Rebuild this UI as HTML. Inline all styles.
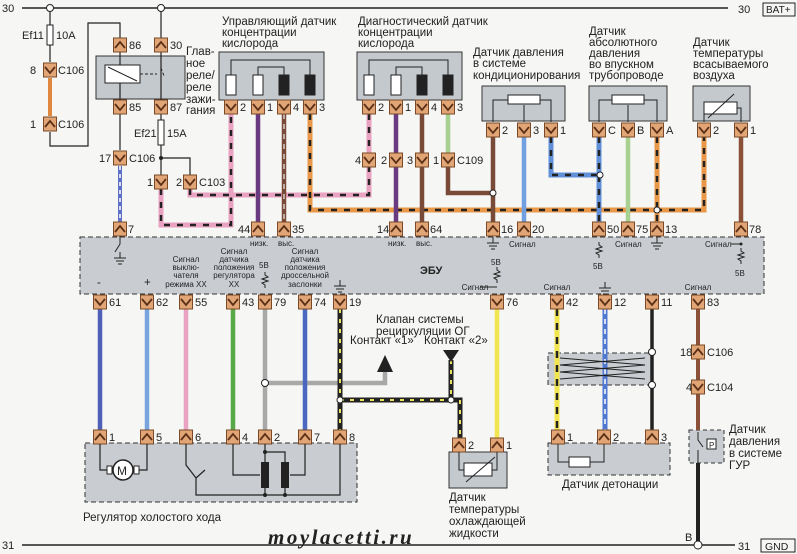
<!DOCTYPE html>
<html><head><meta charset="utf-8"><style>
html,body{margin:0;padding:0;background:#f6f6f4;}
svg{display:block;}
text{font-family:"Liberation Sans",sans-serif;fill:#222;}
.t{font-size:11.5px;}
.s{font-size:8px;}
.n{font-size:11px;}
</style></head><body>
<svg width="797" height="554" viewBox="0 0 797 554" xmlns="http://www.w3.org/2000/svg">
<defs>
<g id="cd"><rect x="-6.5" y="-7" width="13" height="14" fill="#e2a676" stroke="#7a4a28" stroke-width="1"/><path d="M-5,-3 L0,3 L5,-3" fill="none" stroke="#5a3018" stroke-width="1.8"/></g>
<g id="cu"><rect x="-6.5" y="-7" width="13" height="14" fill="#e2a676" stroke="#7a4a28" stroke-width="1"/><path d="M-5,3 L0,-3 L5,3" fill="none" stroke="#5a3018" stroke-width="1.8"/></g>
<g id="gnd"><path d="M0,-6 V0 M-6,0 H6 M-4,3 H4 M-2,6 H2" stroke="#222" stroke-width="1" fill="none"/></g>
<g id="res"><path d="M0,-8 V-5 L3,-3 L-3,-1 L3,1 L-3,3 L0,5 V8" stroke="#222" stroke-width="1" fill="none"/></g>
</defs>
<rect width="797" height="554" fill="#f6f6f4"/>

<!-- power rails -->
<line x1="22" y1="8" x2="728" y2="8" stroke="#222" stroke-width="1.5"/>
<text x="2" y="12" class="n">30</text>
<text x="738" y="13" class="n">30</text>
<rect x="763" y="3" width="32" height="13" fill="none" stroke="#222"/>
<text x="766" y="13" style="font-size:10px">BAT+</text>
<line x1="22" y1="545" x2="735" y2="545" stroke="#222" stroke-width="1.5"/>
<text x="2" y="549" class="n">31</text>
<text x="738" y="550" class="n">31</text>
<rect x="761" y="539" width="34" height="13" fill="none" stroke="#222"/>
<text x="765" y="550" style="font-size:10.5px">GND</text>
<text x="685" y="541" class="n">B</text>

<!-- boxes -->
<rect x="80" y="237" width="684" height="57" fill="#c9cdd2" stroke="#333" stroke-dasharray="5 3"/>
<rect x="96" y="56" width="89" height="43" fill="#c4c9ce" stroke="#333"/>
<rect x="219" y="52" width="105" height="48" fill="#c4c9ce" stroke="#333"/>
<rect x="357" y="52" width="105" height="48" fill="#c4c9ce" stroke="#333"/>
<rect x="482" y="86" width="83" height="35" fill="#c4c9ce" stroke="#333"/>
<rect x="589" y="86" width="78" height="35" fill="#c4c9ce" stroke="#333"/>
<rect x="693" y="86" width="57" height="35" fill="#c4c9ce" stroke="#333"/>
<rect x="85" y="443" width="272" height="59" fill="#c9cdd2" stroke="#333" stroke-dasharray="5 3"/>
<rect x="449" y="452" width="58" height="36" fill="#c4c9ce" stroke="#333"/>
<rect x="548" y="353" width="104" height="32" fill="#c9cdd2" stroke="#333" stroke-dasharray="5 3"/>
<rect x="548" y="443" width="122" height="32" fill="#c9cdd2" stroke="#333" stroke-dasharray="5 3"/>
<rect x="689" y="430" width="35" height="33" fill="#c9cdd2" stroke="#333" stroke-dasharray="4 3"/>

<!-- left fuse/relay wiring -->
<circle cx="50" cy="8" r="3.5" fill="#fff" stroke="#222"/>
<circle cx="161" cy="8" r="3.5" fill="#fff" stroke="#222"/>
<path d="M50,11 V62 M50,132 V146 H88 V23 H120 V38" stroke="#222" stroke-width="1.2" fill="none"/>
<rect x="47" y="25" width="6" height="20" fill="#fff" stroke="#222"/>
<text x="22" y="39" class="n">Ef11</text><text x="56" y="39" class="n">10A</text>
<line x1="50" y1="78" x2="50" y2="116" stroke="#e08840" stroke-width="4"/>
<path d="M161,11 V38 M120,52 V100 M161,52 V100 M120,114 V150 M161,114 V175" stroke="#222" stroke-width="1.2" fill="none"/>
<rect x="105" y="65" width="35" height="18" fill="#fff" stroke="#222"/>
<line x1="108" y1="67" x2="137" y2="81" stroke="#222"/>
<path d="M140,74 H157 M161,68 L164,76" stroke="#222" stroke-dasharray="3 2" fill="none"/>
<rect x="158" y="120" width="6" height="25" fill="#fff" stroke="#222"/>
<text x="134" y="137" class="n">Ef21</text><text x="167" y="137" class="n">15A</text>
<circle cx="161" cy="158" r="2" fill="#222"/>
<path d="M161,158 H190 V175" stroke="#222" stroke-width="1.2" fill="none"/>
<text x="186" y="55" class="t">Глав-</text><text x="186" y="67" class="t">ное</text><text x="186" y="79" class="t">реле/</text><text x="186" y="91" class="t">реле</text><text x="186" y="103" class="t">зажи-</text><text x="186" y="114" class="t">гания</text>

<line x1="120" y1="166" x2="120" y2="222" stroke="#6070c8" stroke-width="4"/>
<line x1="120" y1="166" x2="120" y2="222" stroke="#fff" stroke-width="1.5" stroke-dasharray="4 4"/>

<!-- pink wires -->
<path d="M161,189 V225 H231 V114" stroke="#eaa2c2" stroke-width="5" fill="none"/>
<path d="M161,189 V225 H231 V114" stroke="#222" stroke-width="2.5" stroke-dasharray="6 7" fill="none"/>
<path d="M190,189 V195 H369 V167" stroke="#eaa2c2" stroke-width="5" fill="none"/>
<path d="M190,189 V195 H369 V167" stroke="#222" stroke-width="2.5" stroke-dasharray="6 7" fill="none"/>
<path d="M369,114 V153" stroke="#eaa2c2" stroke-width="5" fill="none"/>
<path d="M369,114 V153" stroke="#222" stroke-width="2.5" stroke-dasharray="6 7" fill="none"/>
<!-- orange/black -->
<path d="M310,114 V210 H704 V137" stroke="#e89848" stroke-width="5" fill="none"/>
<path d="M310,114 V210 H704 V137" stroke="#222" stroke-width="2.5" stroke-dasharray="6 7" fill="none"/>
<path d="M657,137 V222" stroke="#e89848" stroke-width="5" fill="none"/>
<path d="M657,137 V222" stroke="#222" stroke-width="2.5" stroke-dasharray="6 7" fill="none"/>
<circle cx="657" cy="210" r="3" fill="#fff" stroke="#222"/>
<!-- O2 sensor wires -->
<line x1="258" y1="114" x2="258" y2="222" stroke="#6a3a80" stroke-width="4.5"/>
<line x1="284" y1="114" x2="284" y2="222" stroke="#7a4a38" stroke-width="4.5"/>
<line x1="284" y1="114" x2="284" y2="222" stroke="#eee" stroke-width="1.2" stroke-dasharray="5 5"/>
<line x1="396" y1="114" x2="396" y2="222" stroke="#6a3a80" stroke-width="4.5"/>
<line x1="422" y1="114" x2="422" y2="222" stroke="#7a4a38" stroke-width="4.5"/>
<line x1="448" y1="114" x2="448" y2="153" stroke="#a8d090" stroke-width="4.5"/>
<path d="M448,167 V193 H493" stroke="#7a4a38" stroke-width="4.5" fill="none"/>
<line x1="493" y1="137" x2="493" y2="222" stroke="#7a4a38" stroke-width="4.5"/>
<circle cx="493" cy="193" r="3" fill="#fff" stroke="#222"/>
<line x1="524" y1="137" x2="524" y2="222" stroke="#70a0e0" stroke-width="4.5"/>
<path d="M551,137 V175 H601" stroke="#6090d8" stroke-width="5" fill="none"/>
<path d="M551,137 V175 H601" stroke="#222" stroke-width="2.5" stroke-dasharray="6 7" fill="none"/>
<path d="M599,137 V222" stroke="#6090d8" stroke-width="5" fill="none"/>
<path d="M599,137 V222" stroke="#222" stroke-width="2.5" stroke-dasharray="6 7" fill="none"/>
<circle cx="600" cy="175" r="3" fill="#fff" stroke="#222"/>
<line x1="628" y1="137" x2="628" y2="222" stroke="#a8d090" stroke-width="4.5"/>
<line x1="741" y1="137" x2="741" y2="222" stroke="#8a5038" stroke-width="4.5"/>

<!-- sensor internals -->
<g stroke="#222" fill="none" stroke-width="1">
<path d="M231,80 V60 H310 V75 M258,75 V67 H284 V75"/>
<path d="M369,80 V60 H448 V75 M396,75 V67 H422 V75"/>
<path d="M493,122 V100 H551 V122 M524,122 V105"/>
<path d="M599,122 V100 H657 V122 M628,122 V105"/>
<path d="M704,122 V108 M741,122 V108 H712"/>
</g>
<g stroke="#222" stroke-width="1">
<rect x="226" y="75" width="10" height="20" fill="#fff"/><rect x="253" y="75" width="10" height="20" fill="#fff"/><rect x="279" y="75" width="10" height="20" fill="#222"/><rect x="305" y="75" width="10" height="20" fill="#222"/>
<rect x="364" y="75" width="10" height="20" fill="#fff"/><rect x="391" y="75" width="10" height="20" fill="#fff"/><rect x="417" y="75" width="10" height="20" fill="#222"/><rect x="443" y="75" width="10" height="20" fill="#222"/>
<rect x="508" y="95" width="32" height="9" fill="#fff"/><rect x="612" y="95" width="32" height="9" fill="#fff"/>
<rect x="704" y="102" width="33" height="12" fill="#fff"/><line x1="708" y1="118" x2="734" y2="94"/>
</g>

<!-- connectors top -->
<use href="#cu" x="50" y="124"/><use href="#cd" x="50" y="70"/>
<use href="#cu" x="120" y="45"/><use href="#cu" x="161" y="45"/>
<use href="#cd" x="120" y="107"/><use href="#cd" x="161" y="107"/>
<use href="#cd" x="120" y="158"/><use href="#cd" x="161" y="182"/><use href="#cd" x="190" y="182"/>
<use href="#cd" x="231" y="107"/><use href="#cd" x="258" y="107"/><use href="#cd" x="284" y="107"/><use href="#cd" x="310" y="107"/>
<use href="#cd" x="369" y="107"/><use href="#cd" x="396" y="107"/><use href="#cd" x="422" y="107"/><use href="#cd" x="448" y="107"/>
<use href="#cd" x="369" y="160"/><use href="#cd" x="396" y="160"/><use href="#cd" x="422" y="160"/><use href="#cd" x="448" y="160"/>
<use href="#cd" x="493" y="130"/><use href="#cd" x="524" y="130"/><use href="#cd" x="551" y="130"/>
<use href="#cd" x="599" y="130"/><use href="#cd" x="628" y="130"/><use href="#cd" x="657" y="130"/>
<use href="#cd" x="704" y="130"/><use href="#cd" x="741" y="130"/>
<use href="#cu" x="120" y="229"/><use href="#cu" x="258" y="229"/><use href="#cu" x="284" y="229"/><use href="#cu" x="396" y="229"/><use href="#cu" x="422" y="229"/>
<use href="#cu" x="493" y="229"/><use href="#cu" x="524" y="229"/><use href="#cu" x="599" y="229"/><use href="#cu" x="628" y="229"/><use href="#cu" x="657" y="229"/><use href="#cu" x="741" y="229"/>

<!-- connector numbers top -->
<g class="n">
<text x="30" y="74" class="n">8</text><text x="58" y="74" class="n">C106</text>
<text x="30" y="128" class="n">1</text><text x="58" y="128" class="n">C106</text>
<text x="129" y="49" class="n">86</text><text x="170" y="49" class="n">30</text>
<text x="129" y="111" class="n">85</text><text x="170" y="111" class="n">87</text>
<text x="99" y="162" class="n">17</text><text x="129" y="162" class="n">C106</text>
<text x="147" y="186" class="n">1</text><text x="176" y="186" class="n">2</text><text x="199" y="186" class="n">C103</text>
<text x="240" y="111" class="n">2</text><text x="267" y="111" class="n">1</text><text x="293" y="111" class="n">4</text><text x="319" y="111" class="n">3</text>
<text x="378" y="111" class="n">2</text><text x="405" y="111" class="n">1</text><text x="431" y="111" class="n">4</text><text x="457" y="111" class="n">3</text>
<text x="355" y="164" class="n">4</text><text x="381" y="164" class="n">2</text><text x="407" y="164" class="n">3</text><text x="433" y="164" class="n">1</text><text x="457" y="164" class="n">C109</text>
<text x="502" y="134" class="n">2</text><text x="533" y="134" class="n">3</text><text x="560" y="134" class="n">1</text>
<text x="608" y="134" class="n">C</text><text x="637" y="134" class="n">B</text><text x="666" y="134" class="n">A</text>
<text x="713" y="134" class="n">2</text><text x="750" y="134" class="n">1</text>
<text x="128" y="233" class="n">7</text><text x="238" y="233" class="n">44</text><text x="292" y="233" class="n">35</text>
<text x="377" y="233" class="n">14</text><text x="430" y="233" class="n">64</text>
<text x="501" y="233" class="n">16</text><text x="532" y="233" class="n">20</text>
<text x="607" y="233" class="n">50</text><text x="636" y="233" class="n">75</text><text x="665" y="233" class="n">13</text><text x="749" y="233" class="n">78</text>
</g>

<!-- sensor titles -->
<text x="222" y="25" class="t">Управляющий датчик</text><text x="222" y="36" class="t">концентрации</text><text x="222" y="47" class="t">кислорода</text>
<text x="358" y="25" class="t">Диагностический датчик</text><text x="358" y="36" class="t">концентрации</text><text x="358" y="47" class="t">кислорода</text>
<text x="473" y="56" class="t">Датчик давления</text><text x="473" y="67" class="t">в системе</text><text x="473" y="79" class="t">кондиционирования</text>
<text x="589" y="35" class="t">Датчик</text><text x="589" y="46" class="t">абсолютного</text><text x="589" y="57" class="t">давления</text><text x="589" y="68" class="t">во впускном</text><text x="589" y="79" class="t">трубопроводе</text>
<text x="693" y="46" class="t">Датчик</text><text x="693" y="57" class="t">температуры</text><text x="693" y="68" class="t">всасываемого</text><text x="693" y="79" class="t">воздуха</text>

<!-- ECU internal labels -->
<text x="420" y="274" style="font-size:11px;font-weight:bold">ЭБУ</text>
<path d="M120,236 V244 L115,252" stroke="#222" fill="none"/><use href="#gnd" x="120" y="258"/>
<text x="250" y="246" class="s">низк.</text><text x="278" y="246" class="s">выс.</text>
<text x="388" y="246" class="s">низк.</text><text x="416" y="246" class="s">выс.</text>
<use href="#gnd" x="493" y="243"/>
<text x="509" y="247" class="s">Сигнал</text>
<use href="#res" x="599" y="250"/><text x="593" y="269" class="s">5B</text>
<text x="615" y="247" class="s">Сигнал</text><use href="#gnd" x="657" y="243"/>
<text x="705" y="247" class="s">Сигнал</text><path d="M731,244 H741" stroke="#222"/><circle cx="741" cy="244" r="1.5" fill="#222"/>
<use href="#res" x="741" y="256"/><text x="735" y="276" class="s">5B</text>
<text x="491" y="265" class="s">5B</text><use href="#res" x="497" y="275"/>
<text x="97" y="286" class="t">-</text><text x="144" y="286" class="t">+</text>
<g class="s" text-anchor="middle">
<text x="186" y="262">Сигнал</text><text x="186" y="270">выклю-</text><text x="186" y="278">чателя</text><text x="186" y="287">режима ХХ</text>
<text x="234" y="254">Сигнал</text><text x="234" y="262">датчика</text><text x="234" y="270">положения</text><text x="234" y="278">регулятора</text><text x="234" y="287">ХХ</text>
<text x="305" y="254">Сигнал</text><text x="305" y="262">датчика</text><text x="305" y="270">положения</text><text x="305" y="278">дроссельной</text><text x="305" y="287">заслонки</text>
<text x="475" y="290">Сигнал</text><text x="557" y="290">Сигнал</text><text x="698" y="290">Сигнал</text>
</g>
<text x="259" y="268" class="s">5B</text><use href="#res" x="265" y="280"/>
<use href="#gnd" x="340" y="286"/><use href="#gnd" x="605" y="288"/>
<path d="M480,287 H497" stroke="#222"/>

<!-- bottom wires -->
<line x1="100" y1="309" x2="100" y2="430" stroke="#5060b8" stroke-width="4.5"/>
<line x1="147" y1="309" x2="147" y2="430" stroke="#78a4e0" stroke-width="4.5"/>
<line x1="186" y1="309" x2="186" y2="430" stroke="#eaa2c2" stroke-width="4.5"/>
<line x1="233" y1="309" x2="233" y2="430" stroke="#58a848" stroke-width="4.5"/>
<path d="M265,309 V430 M265,383 H385 V372" stroke="#a8a8a8" stroke-width="4.5" fill="none"/>
<circle cx="265" cy="383" r="3.5" fill="#fff" stroke="#222"/>
<path d="M377,372 L385,355 L393,372 Z" fill="#222"/>
<line x1="305" y1="309" x2="305" y2="430" stroke="#4a68c0" stroke-width="4.5"/>
<path d="M340,309 V430 M340,400 H460 V438 M451,360 V400" stroke="#222" stroke-width="5" fill="none"/>
<path d="M340,309 V430 M340,400 H460 V438 M451,360 V400" stroke="#e8e060" stroke-width="2" stroke-dasharray="4 6" fill="none"/>
<circle cx="340" cy="400" r="3" fill="#fff" stroke="#222"/><circle cx="451" cy="400" r="3" fill="#fff" stroke="#222"/>
<path d="M443,350 L459,350 L451,362 Z" fill="#222"/>
<line x1="497" y1="309" x2="497" y2="438" stroke="#f2e650" stroke-width="4.5"/>
<path d="M557,309 V430" stroke="#f2e650" stroke-width="5"/><path d="M557,309 V430" stroke="#222" stroke-width="2.5" stroke-dasharray="7 7"/>
<path d="M605,309 V430" stroke="#5078d0" stroke-width="5"/><path d="M605,309 V430" stroke="#fff" stroke-width="1.5" stroke-dasharray="5 5"/>
<path d="M652,309 V430" stroke="#222" stroke-width="3.5"/>
<circle cx="652" cy="352" r="3.5" fill="#fff" stroke="#222"/><circle cx="652" cy="385" r="3.5" fill="#fff" stroke="#222"/>
<path d="M560,358 L645,365 L560,372 L645,379 M645,358 L560,365 L645,372 L560,379" stroke="#222" fill="none"/>
<line x1="698" y1="309" x2="698" y2="430" stroke="#8a5038" stroke-width="4"/>
<path d="M698,463 V545" stroke="#222" stroke-width="4"/>
<circle cx="698" cy="545" r="4" fill="#fff" stroke="#222"/>
<path d="M698,432 V440 L703,447 M698,450 V463" stroke="#222" fill="none"/>
<rect x="707" y="439" width="9" height="10" fill="#fff" stroke="#222"/><text x="709" y="448" style="font-size:8px">P</text>

<!-- bottom connectors -->
<use href="#cd" x="100" y="302"/><use href="#cd" x="147" y="302"/><use href="#cd" x="186" y="302"/><use href="#cd" x="233" y="302"/><use href="#cd" x="265" y="302"/><use href="#cd" x="305" y="302"/><use href="#cd" x="340" y="302"/>
<use href="#cd" x="497" y="302"/><use href="#cd" x="557" y="302"/><use href="#cd" x="605" y="302"/><use href="#cd" x="652" y="302"/><use href="#cd" x="698" y="302"/>
<use href="#cu" x="698" y="352"/><use href="#cd" x="698" y="387"/>
<use href="#cu" x="100" y="437"/><use href="#cu" x="147" y="437"/><use href="#cu" x="186" y="437"/><use href="#cu" x="233" y="437"/><use href="#cu" x="265" y="437"/><use href="#cu" x="305" y="437"/><use href="#cu" x="340" y="437"/>
<use href="#cu" x="459" y="445"/><use href="#cu" x="497" y="445"/>
<use href="#cu" x="558" y="437"/><use href="#cu" x="604" y="437"/><use href="#cu" x="652" y="437"/>

<g class="n">
<text x="109" y="306">61</text><text x="156" y="306">62</text><text x="195" y="306">55</text><text x="242" y="306">43</text><text x="274" y="306">79</text><text x="314" y="306">74</text><text x="349" y="306">19</text>
<text x="506" y="306">76</text><text x="566" y="306">42</text><text x="614" y="306">12</text><text x="661" y="306">11</text><text x="707" y="306">83</text>
<text x="680" y="356">18</text><text x="707" y="356">C106</text><text x="686" y="391">4</text><text x="707" y="391">C104</text>
<text x="109" y="441">1</text><text x="156" y="441">5</text><text x="195" y="441">6</text><text x="242" y="441">4</text><text x="274" y="441">2</text><text x="314" y="441">7</text><text x="349" y="441">8</text>
<text x="468" y="449">2</text><text x="506" y="449">1</text>
<text x="567" y="441">1</text><text x="613" y="441">2</text><text x="661" y="441">3</text>
</g>

<!-- IAC internals -->
<g stroke="#222" fill="none" stroke-width="1.2">
<path d="M100,444 V470 H109 M137,470 H147 V444"/>
<path d="M186,444 V465 L196,478 V495 H340 V444 M196,478 L205,470"/>
<path d="M233,444 V475 H260 M265,444 V452 H285 V462 M265,452 V462 M265,488 V495 M285,488 V495 M305,444 V475 H290"/>
</g>
<circle cx="123" cy="470" r="10" fill="#fff" stroke="#222" stroke-width="1.5"/>
<rect x="107" y="466" width="5" height="8" fill="#fff" stroke="#222"/><rect x="134" y="466" width="5" height="8" fill="#fff" stroke="#222"/>
<text x="117" y="475" style="font-size:12px">M</text>
<rect x="261" y="462" width="8" height="26" fill="#222"/><rect x="281" y="462" width="8" height="26" fill="#222"/>
<circle cx="265" cy="452" r="2" fill="#222"/><circle cx="265" cy="495" r="2" fill="#222"/><circle cx="285" cy="495" r="2" fill="#222"/>
<!-- coolant internals -->
<path d="M459,452 V470 H464 M492,470 H497 V452" stroke="#222" fill="none"/>
<rect x="464" y="463" width="28" height="13" fill="#fff" stroke="#222"/><line x1="466" y1="482" x2="495" y2="457" stroke="#222"/>
<!-- knock internals -->
<path d="M558,444 V462 H569 M590,462 H604 V444" stroke="#222" fill="none"/>
<rect x="569" y="457" width="21" height="10" fill="#fff" stroke="#222"/>

<!-- bottom labels -->
<text x="376" y="323" class="t">Клапан системы</text><text x="376" y="335" class="t">рециркуляции ОГ</text>
<text x="350" y="344" class="t">Контакт «1»</text><text x="424" y="344" class="t">Контакт «2»</text>
<text x="83" y="521" class="t">Регулятор холостого хода</text>
<text x="449" y="501" class="t">Датчик</text><text x="449" y="513" class="t">температуры</text><text x="449" y="525" class="t">охлаждающей</text><text x="449" y="537" class="t">жидкости</text>
<text x="562" y="488" class="t">Датчик детонации</text>
<text x="729" y="433" class="t">Датчик</text><text x="729" y="445" class="t">давления</text><text x="729" y="457" class="t">в системе</text><text x="729" y="469" class="t">ГУР</text>
<text x="268" y="544" style="font-family:'Liberation Serif',serif;font-size:21px;font-weight:bold;font-style:italic;letter-spacing:2.5px">moylacetti.ru</text>
</svg>
</body></html>
